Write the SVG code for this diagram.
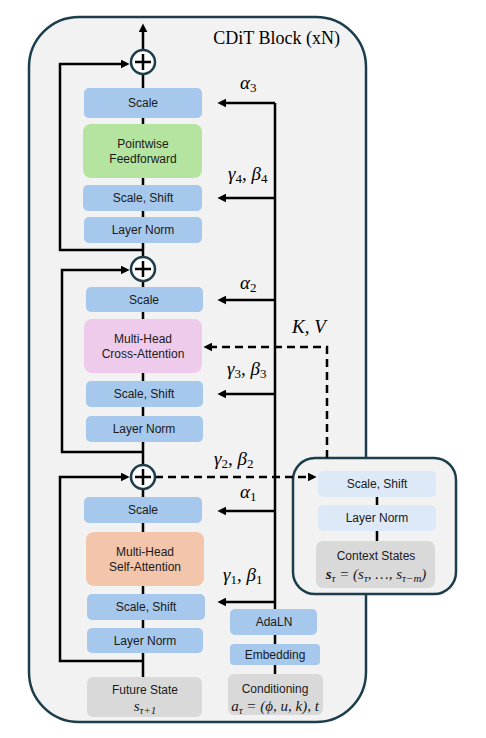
<svg xmlns="http://www.w3.org/2000/svg" width="486" height="738" viewBox="0 0 486 738">
<defs>
<marker id="ah" viewBox="0 0 10 10" refX="6" refY="5" markerWidth="9" markerHeight="9" markerUnits="userSpaceOnUse" orient="auto"><path d="M0,0 L10,5 L0,10 z" fill="#000"/></marker>
</defs>
<style>
.panel{fill:#f2f2f2;stroke:#1c3d4c;stroke-width:2.5}
.ln{fill:none;stroke:#000;stroke-width:2.5}
.dash{fill:none;stroke:#000;stroke-width:2.5;stroke-dasharray:8 5}
.blue{fill:#a6c8ec}
.lblue{fill:#dde9f6}
.green{fill:#b4e4a0}
.pink{fill:#eecbea}
.orange{fill:#f3c5ab}
.gray{fill:#d9d9d9}
.bt{font-family:"Liberation Sans",Arial,sans-serif;font-size:12px;fill:#1a1a1a;text-anchor:middle}
.m{font-family:"Liberation Serif","Times New Roman",serif;font-style:italic;font-size:19px;fill:#000}
.mb{font-family:"Liberation Serif","Times New Roman",serif;font-style:italic;font-size:15px;fill:#1a1a1a;text-anchor:middle}
.sub{font-style:normal;font-size:13px}
.subi{font-size:11px}
.circ{fill:#fff;stroke:#1c3d4c;stroke-width:2.5}
.plus{stroke:#000;stroke-width:2.5}
</style>
<g id="panel-main"><rect class="panel" x="29" y="17" width="337" height="705" rx="50"/>
<text x="340" y="44" font-family="Liberation Serif,'Times New Roman',serif" font-size="18" text-anchor="end" fill="#000">CDiT Block (xN)</text></g>
<g id="panel-context"><rect class="panel" x="293" y="458" width="163" height="136" rx="22"/></g>
<g id="connectors">
<path class="ln" d="M143,677 V27" marker-end="url(#ah)"/>
<path class="ln" d="M143,250 H60 V64 H126" marker-end="url(#ah)"/>
<path class="ln" d="M143,452 H62 V270 H126" marker-end="url(#ah)"/>
<path class="ln" d="M143,661 H60 V477 H126" marker-end="url(#ah)"/>
<path class="ln" d="M275,609 V103"/>
<path class="ln" d="M275,103 H221" marker-end="url(#ah)"/>
<path class="ln" d="M275,198 H221" marker-end="url(#ah)"/>
<path class="ln" d="M275,300 H221" marker-end="url(#ah)"/>
<path class="ln" d="M275,394 H221" marker-end="url(#ah)"/>
<path class="ln" d="M275,511 H221" marker-end="url(#ah)"/>
<path class="ln" d="M275,602 H221" marker-end="url(#ah)"/>
<path class="ln" d="M275,635 V644 M275,665 V674"/>
<path class="dash" d="M327,458 V347 H207" marker-end="url(#ah)"/>
<path class="dash" d="M155,477 H313" marker-end="url(#ah)"/>
<path class="ln" d="M377,497 V505 M377,531 V541"/>
</g>
<g id="sum1"><circle class="circ" cx="143" cy="62" r="12"/><path class="plus" d="M135,62 H151 M143,54 V70"/></g>
<g id="sum2"><circle class="circ" cx="143" cy="269" r="12"/><path class="plus" d="M135,269 H151 M143,261 V277"/></g>
<g id="sum3"><circle class="circ" cx="143" cy="477" r="12"/><path class="plus" d="M135,477 H151 M143,469 V485"/></g>
<g id="scale3"><rect class="blue" x="84" y="88" width="118" height="30" rx="5"/><text class="bt" x="143" y="107">Scale</text></g>
<g id="ffn"><rect class="green" x="83" y="124" width="119" height="54" rx="8"/><text class="bt" x="143" y="148">Pointwise</text><text class="bt" x="143" y="163">Feedforward</text></g>
<g id="scaleshift4"><rect class="blue" x="83" y="185" width="119" height="26" rx="5"/><text class="bt" x="143" y="202">Scale, Shift</text></g>
<g id="layernorm3"><rect class="blue" x="84" y="217" width="118" height="26" rx="5"/><text class="bt" x="143" y="234">Layer Norm</text></g>
<g id="scale2"><rect class="blue" x="86" y="287" width="117" height="25" rx="5"/><text class="bt" x="144" y="304">Scale</text></g>
<g id="cross-attn"><rect class="pink" x="84" y="319" width="118" height="54" rx="8"/><text class="bt" x="143" y="343">Multi-Head</text><text class="bt" x="143" y="358">Cross-Attention</text></g>
<g id="scaleshift3"><rect class="blue" x="86" y="381" width="117" height="26" rx="5"/><text class="bt" x="144" y="398">Scale, Shift</text></g>
<g id="layernorm2"><rect class="blue" x="86" y="416" width="117" height="26" rx="5"/><text class="bt" x="144" y="433">Layer Norm</text></g>
<g id="scale1"><rect class="blue" x="84" y="497" width="118" height="26" rx="5"/><text class="bt" x="143" y="514">Scale</text></g>
<g id="self-attn"><rect class="orange" x="86" y="532" width="118" height="54" rx="8"/><text class="bt" x="145" y="556">Multi-Head</text><text class="bt" x="145" y="571">Self-Attention</text></g>
<g id="scaleshift1"><rect class="blue" x="87" y="594" width="118" height="26" rx="5"/><text class="bt" x="146" y="611">Scale, Shift</text></g>
<g id="layernorm1"><rect class="blue" x="87" y="628" width="116" height="25" rx="5"/><text class="bt" x="145" y="645">Layer Norm</text></g>
<g id="future-state"><rect class="gray" x="87" y="677" width="115" height="40" rx="6"/><text class="bt" x="145" y="694">Future State</text><text class="mb" x="145" y="711">s<tspan class="subi" dy="3">τ+1</tspan></text></g>
<g id="adaln"><rect class="blue" x="230" y="609" width="87" height="26" rx="5"/><text class="bt" x="274" y="626">AdaLN</text></g>
<g id="embedding"><rect class="blue" x="230" y="644" width="90" height="21" rx="4"/><text class="bt" x="275" y="659">Embedding</text></g>
<g id="conditioning"><rect class="gray" x="228" y="674" width="95" height="41" rx="6"/><text class="bt" x="275" y="693">Conditioning</text><text class="mb" x="275" y="711">a<tspan class="subi" dy="3">τ</tspan><tspan dy="-3"> = (ϕ, u, k), t</tspan></text></g>
<g id="ctx-scaleshift"><rect class="lblue" x="318" y="471" width="118" height="26" rx="5"/><text class="bt" x="377" y="488">Scale, Shift</text></g>
<g id="ctx-layernorm"><rect class="lblue" x="318" y="505" width="118" height="26" rx="5"/><text class="bt" x="377" y="522">Layer Norm</text></g>
<g id="context-states"><rect class="gray" x="316" y="541" width="119" height="47" rx="7"/><text class="bt" x="376" y="560">Context States</text><text class="mb" x="376" y="579"><tspan font-weight="bold">s</tspan><tspan class="subi" dy="3">τ</tspan><tspan dy="-3"> = (s</tspan><tspan class="subi" dy="3">τ</tspan><tspan dy="-3">, …, s</tspan><tspan class="subi" dy="3">τ−m</tspan><tspan dy="-3">)</tspan></text></g>
<g id="labels">
<text class="m" x="240" y="89">α<tspan class="sub" dy="3">3</tspan></text>
<text class="m" x="228" y="180">γ<tspan class="sub" dy="3">4</tspan><tspan dy="-3">, β</tspan><tspan class="sub" dy="3">4</tspan></text>
<text class="m" x="240" y="289">α<tspan class="sub" dy="3">2</tspan></text>
<text class="m" x="292" y="333">K, V</text>
<text class="m" x="227" y="375">γ<tspan class="sub" dy="3">3</tspan><tspan dy="-3">, β</tspan><tspan class="sub" dy="3">3</tspan></text>
<text class="m" x="214" y="465">γ<tspan class="sub" dy="3">2</tspan><tspan dy="-3">, β</tspan><tspan class="sub" dy="3">2</tspan></text>
<text class="m" x="240" y="498">α<tspan class="sub" dy="3">1</tspan></text>
<text class="m" x="223" y="581">γ<tspan class="sub" dy="3">1</tspan><tspan dy="-3">, β</tspan><tspan class="sub" dy="3">1</tspan></text>
</g>
</svg>
